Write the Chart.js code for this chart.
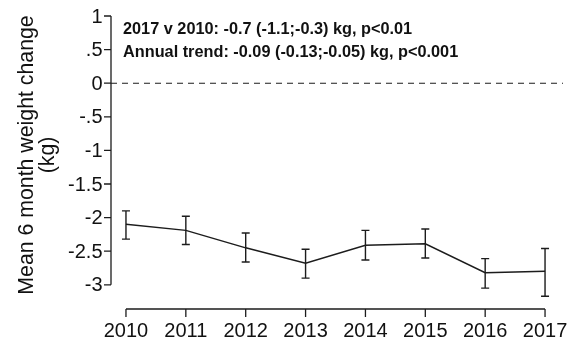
<!DOCTYPE html>
<html>
<head>
<meta charset="utf-8">
<script src="https://cdn.jsdelivr.net/npm/chart.js@4/dist/chart.umd.min.js"></script>
<style>
  html, body { margin: 0; padding: 0; background: #fff; }
  canvas { display: block; }
</style>
</head>
<body>
<canvas id="chart" width="568" height="349"></canvas>
<script>
// Survey years and mean 6-month weight change (kg) with 95% CI
const years = [2010, 2011, 2012, 2013, 2014, 2015, 2016, 2017];
const meanChange = [-2.10, -2.19, -2.45, -2.68, -2.41, -2.39, -2.82, -2.80];
const ciLower = [-2.32, -2.40, -2.66, -2.90, -2.63, -2.60, -3.05, -3.17];
const ciUpper = [-1.90, -1.98, -2.23, -2.47, -2.19, -2.17, -2.61, -2.46];

// Axis ticks
const yTicks = [1, 0.5, 0, -0.5, -1, -1.5, -2, -2.5, -3];
const yTickLabels = ['1', '.5', '0', '-.5', '-1', '-1.5', '-2', '-2.5', '-3'];
const xTicks = years;
const xTickLabels = years.map(String);

const yTitleLines = ['Mean 6 month weight change', '(kg)'];
const annotationLines = [
  '2017 v 2010: -0.7 (-1.1;-0.3) kg, p<0.01',
  'Annual trend: -0.09 (-0.13;-0.05) kg, p<0.001'
];

const X_MIN = 2009.75, X_MAX = 2017.30;
const Y_MIN = -3.36, Y_MAX = 1;
const INK = '#1c1c1c';
const FONT = '"Liberation Sans", Arial, sans-serif';

// Error bars for each year
const errorBars = {
  id: 'errorBars',
  afterDatasetsDraw(chart) {
    const { ctx, scales: { x, y } } = chart;
    ctx.save();
    ctx.strokeStyle = INK;
    ctx.lineWidth = 1.4;
    years.forEach((yr, i) => {
      const px = x.getPixelForValue(yr);
      const top = y.getPixelForValue(ciUpper[i]);
      const bot = y.getPixelForValue(ciLower[i]);
      ctx.beginPath();
      ctx.moveTo(px, top); ctx.lineTo(px, bot);
      ctx.moveTo(px - 4, top); ctx.lineTo(px + 4, top);
      ctx.moveTo(px - 4, bot); ctx.lineTo(px + 4, bot);
      ctx.stroke();
    });
    ctx.restore();
  }
};

// Axis lines spanning only the tick range, tick marks, labels and titles
const baseAxes = {
  id: 'baseAxes',
  afterDraw(chart) {
    const { ctx, chartArea, scales: { x, y } } = chart;
    const ax = chartArea.left;
    const ay = chartArea.bottom;
    ctx.save();
    ctx.strokeStyle = INK;
    ctx.fillStyle = '#111';
    ctx.lineWidth = 1.3;

    // y axis
    const yTop = y.getPixelForValue(yTicks[0]);
    const yBot = y.getPixelForValue(yTicks[yTicks.length - 1]);
    ctx.beginPath();
    ctx.moveTo(ax, yTop); ctx.lineTo(ax, yBot);
    yTicks.forEach(v => {
      const py = y.getPixelForValue(v);
      ctx.moveTo(ax - 7, py); ctx.lineTo(ax, py);
    });
    ctx.stroke();
    ctx.font = '20px ' + FONT;
    ctx.textAlign = 'right';
    ctx.textBaseline = 'middle';
    yTicks.forEach((v, i) => {
      ctx.fillText(yTickLabels[i], ax - 8.5, y.getPixelForValue(v) + 1);
    });

    // x axis
    const xL = x.getPixelForValue(xTicks[0]);
    const xR = x.getPixelForValue(xTicks[xTicks.length - 1]);
    ctx.beginPath();
    ctx.moveTo(xL, ay); ctx.lineTo(xR, ay);
    xTicks.forEach(v => {
      const px = x.getPixelForValue(v);
      ctx.moveTo(px, ay); ctx.lineTo(px, ay + 8);
    });
    ctx.stroke();
    ctx.textAlign = 'center';
    ctx.textBaseline = 'middle';
    xTicks.forEach((v, i) => {
      ctx.fillText(xTickLabels[i], x.getPixelForValue(v), ay + 22);
    });

    // y axis title
    ctx.save();
    ctx.font = '21.3px ' + FONT;
    ctx.translate(27, 155);
    ctx.rotate(-Math.PI / 2);
    ctx.textAlign = 'center';
    ctx.textBaseline = 'middle';
    ctx.fillText(yTitleLines[0], 0, 0);
    ctx.fillText(yTitleLines[1], 0, 21);
    ctx.restore();

    // statistics annotation
    ctx.font = 'bold 16.3px ' + FONT;
    ctx.textAlign = 'left';
    ctx.textBaseline = 'middle';
    ctx.fillText(annotationLines[0], ax + 12, 30);
    ctx.fillText(annotationLines[1], ax + 12, 53);
    ctx.restore();
  }
};

new Chart(document.getElementById('chart'), {
  type: 'line',
  data: {
    datasets: [
      {
        label: 'Reference',
        data: [{ x: X_MIN, y: 0 }, { x: X_MAX, y: 0 }],
        borderColor: INK,
        borderWidth: 1.1,
        borderDash: [6, 5],
        pointRadius: 0
      },
      {
        label: 'Mean 6 month weight change',
        data: years.map((yr, i) => ({ x: yr, y: meanChange[i] })),
        borderColor: INK,
        borderWidth: 1.5,
        pointRadius: 0,
        tension: 0,
        clip: false
      }
    ]
  },
  options: {
    responsive: false,
    animation: false,
    layout: { padding: { left: 111, top: 16, right: 5, bottom: 40 } },
    plugins: { legend: { display: false }, tooltip: { enabled: false } },
    scales: {
      x: { type: 'linear', min: X_MIN, max: X_MAX, display: false },
      y: { type: 'linear', min: Y_MIN, max: Y_MAX, display: false }
    }
  },
  plugins: [errorBars, baseAxes]
});
</script>
</body>
</html>
